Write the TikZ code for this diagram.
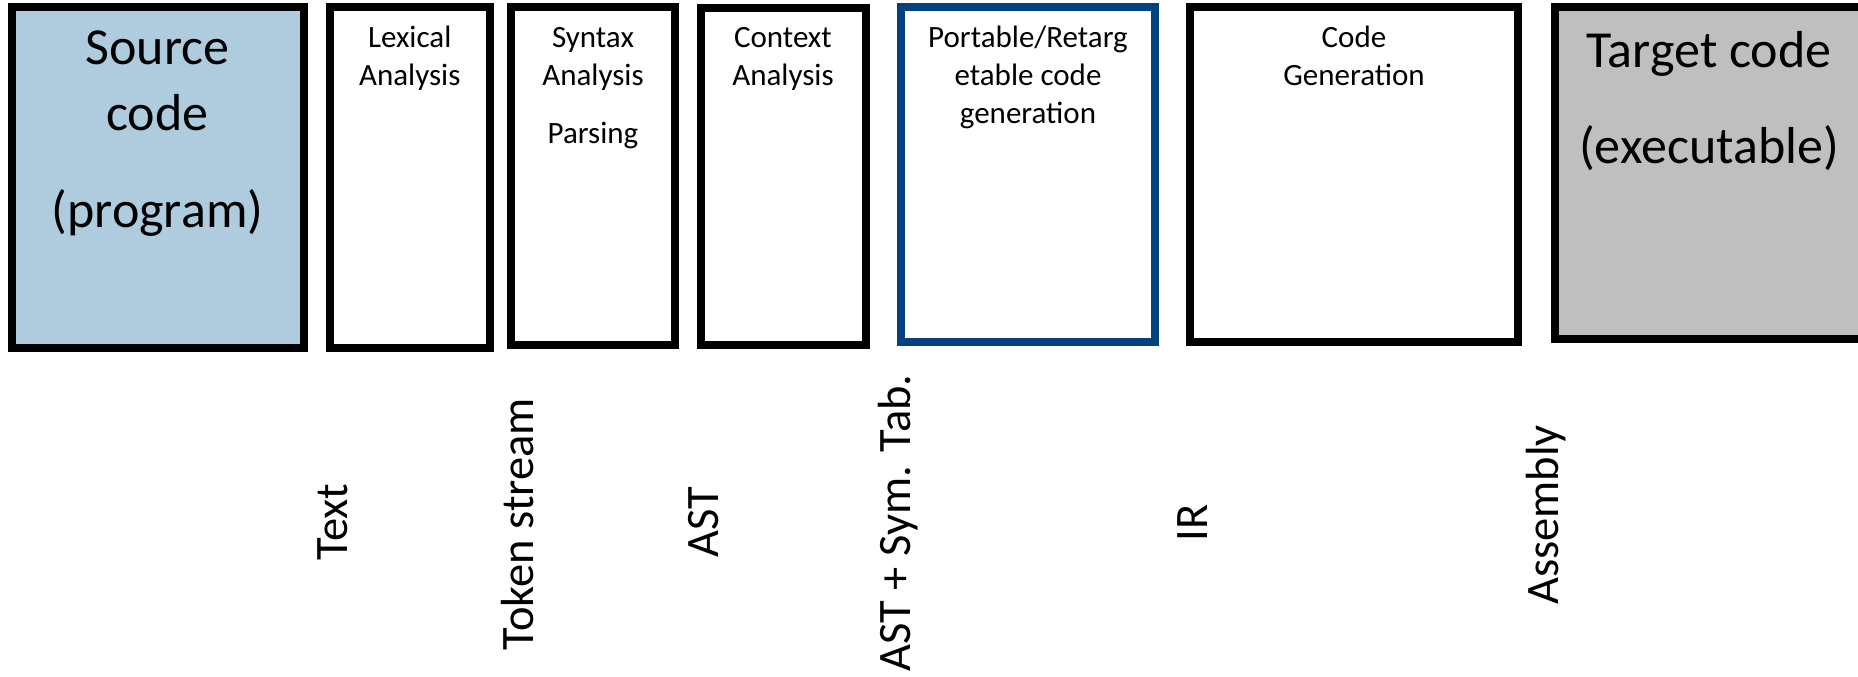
\documentclass[tikz,border=0pt]{standalone}
\usepackage{fontspec}
\setmainfont{Carlito}
\definecolor{srcblue}{RGB}{174,204,222}
\definecolor{portblue}{RGB}{3,65,127}
\definecolor{tgtgray}{RGB}{191,191,191}
\begin{document}
\begin{tikzpicture}[x=1pt,y=-1pt,
  box/.style={draw,line width=8pt,inner sep=0pt,outer sep=0pt,rectangle},
  big/.style={font=\fontsize{52}{63}\selectfont,anchor=base,inner sep=0pt},
  small/.style={font=\fontsize{31}{38}\selectfont,anchor=base,inner sep=0pt},
  vlab/.style={font=\fontsize{46.5}{56}\selectfont,anchor=base,rotate=90,inner sep=0pt}]
\useasboundingbox (0,0) rectangle (1858,677);
% boxes
\node[box,fill=srcblue,minimum width=292pt,minimum height=340.5pt] (src) at (157.5,177.25) {};
\node[box,fill=white,minimum width=159.5pt,minimum height=340.5pt] (lex) at (409.75,177.25) {};
\node[box,fill=white,minimum width=164pt,minimum height=337pt] (syn) at (593,176) {};
\node[box,fill=white,minimum width=165pt,minimum height=336.5pt] (ctx) at (783,176.25) {};
\node[box,draw=portblue,fill=white,minimum width=254pt,minimum height=334pt] (port) at (1028,174.5) {};
\node[box,fill=white,minimum width=328pt,minimum height=334.5pt] (cg) at (1354,174.25) {};
\node[box,fill=tgtgray,minimum width=308pt,minimum height=331.5pt] (tgt) at (1709,173.25) {};
% box texts
\node[big] (src1) at (157.5,65) {Source};
\node[big] (src2) at (157.5,130) {code};
\node[big] (src3) at (157.5,227) {(program)};
\node[small] (lex1) at (409.75,48) {Lexical};
\node[small] (lex2) at (409.75,85) {Analysis};
\node[small] (syn1) at (593,48) {Syntax};
\node[small] (syn2) at (593,85) {Analysis};
\node[small] (syn3) at (593,143) {Parsing};
\node[small] (ctx1) at (783,48) {Context};
\node[small] (ctx2) at (783,85) {Analysis};
\node[small] (port1) at (1028,48) {Portable/Retarg};
\node[small] (port2) at (1028,85) {etable code};
\node[small] (port3) at (1028,123) {generation};
\node[small] (cg1) at (1354,48) {Code};
\node[small] (cg2) at (1354,85) {Generation};
\node[big] (tgt1) at (1709,67) {Target code};
\node[big] (tgt2) at (1709,163) {(executable)};
% rotated labels
\node[vlab] (l1) at (347,522) {Text};
\node[vlab] (l2) at (533,524) {Token stream};
\node[vlab] (l3) at (718,522) {AST};
\node[vlab] (l4) at (910,523) {AST + Sym. Tab.};
\node[vlab] (l5) at (1207,523) {IR};
\node[vlab] (l6) at (1558,515) {Assembly};
\end{tikzpicture}
\end{document}
